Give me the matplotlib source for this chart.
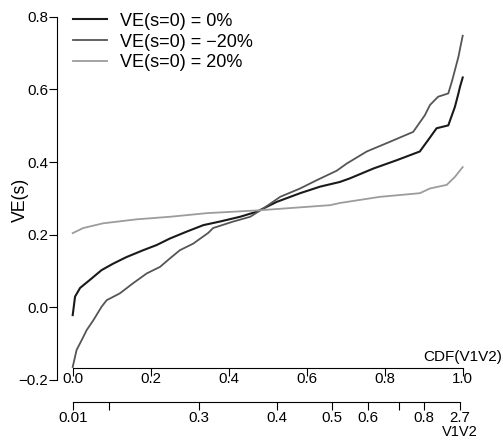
import matplotlib
matplotlib.use("Agg")
import matplotlib.pyplot as plt

plt.rcParams['font.family'] = ['Liberation Sans', 'DejaVu Sans']

# VE(s) curves along the CDF of V1V2, one per VE(s=0) scenario
cdf_0 = [0.0, 0.006, 0.019, 0.044, 0.074, 0.104, 0.138, 0.181, 0.215, 0.249,
         0.292, 0.335, 0.378, 0.429, 0.472, 0.523, 0.583, 0.634, 0.685, 0.711,
         0.771, 0.831, 0.89, 0.911, 0.933, 0.963, 0.98, 0.989, 0.993, 1.0]
ve_0 = [-0.022, 0.029, 0.053, 0.075, 0.102, 0.120, 0.138, 0.157, 0.171, 0.189,
        0.208, 0.226, 0.236, 0.249, 0.263, 0.290, 0.314, 0.332, 0.345, 0.355,
        0.382, 0.405, 0.429, 0.460, 0.493, 0.501, 0.552, 0.589, 0.607, 0.633]

cdf_m20 = [0.0, 0.01, 0.023, 0.036, 0.053, 0.074, 0.087, 0.121, 0.155, 0.19,
           0.224, 0.249, 0.275, 0.309, 0.348, 0.36, 0.412, 0.455, 0.489, 0.532,
           0.583, 0.626, 0.677, 0.703, 0.754, 0.814, 0.873, 0.903, 0.916, 0.937,
           0.963, 0.972, 0.98, 0.989, 0.995, 1.0]
ve_m20 = [-0.165, -0.118, -0.091, -0.063, -0.036, 0.001, 0.019, 0.038, 0.066, 0.093,
          0.111, 0.134, 0.157, 0.175, 0.205, 0.218, 0.236, 0.249, 0.272, 0.304,
          0.327, 0.350, 0.376, 0.396, 0.429, 0.456, 0.483, 0.529, 0.557, 0.580,
          0.589, 0.621, 0.653, 0.690, 0.722, 0.748]

cdf_p20 = [0.0, 0.027, 0.078, 0.164, 0.249, 0.344, 0.48, 0.66, 0.685, 0.788,
           0.89, 0.916, 0.959, 0.98, 1.0]
ve_p20 = [0.204, 0.218, 0.231, 0.242, 0.249, 0.259, 0.267, 0.281, 0.287, 0.304,
          0.314, 0.327, 0.337, 0.359, 0.386]

labels = ['VE(s=0) = 0%', 'VE(s=0) = \u221220%', 'VE(s=0) = 20%']

cdf_ticks = [0.0, 0.2, 0.4, 0.6, 0.8, 1.0]
v1v2_pos = [0.0, 0.093, 0.324, 0.523, 0.665, 0.757, 0.836, 0.900, 0.993]
v1v2_labels = ['0.01', '', '0.3', '0.4', '0.5', '0.6', '', '0.8', '2.7']

fig = plt.figure(figsize=(5.03, 4.42), dpi=100)
ax = fig.add_axes([0.1133, 0.1410, 0.8066, 0.8208])

ax.plot(cdf_0, ve_0, color='#1a1a1a', lw=1.5, clip_on=False, label=labels[0])
ax.plot(cdf_m20, ve_m20, color='#555555', lw=1.3, clip_on=False, label=labels[1])
ax.plot(cdf_p20, ve_p20, color='#9c9c9c', lw=1.3, clip_on=False, label=labels[2])

ax.set_xlim(-0.0403, 1.0)
ax.set_ylim(-0.2, 0.8)

for s in ['top', 'right']:
    ax.spines[s].set_visible(False)
ax.spines['left'].set_bounds(-0.2, 0.8)
ax.spines['bottom'].set_position(('data', -0.168))
ax.spines['bottom'].set_bounds(0, 1)
for s in ['left', 'bottom']:
    ax.spines[s].set_linewidth(0.8)

ax.set_yticks([-0.2, 0.0, 0.2, 0.4, 0.6, 0.8])
ax.set_yticklabels(['\u22120.2', '0.0', '0.2', '0.4', '0.6', '0.8'])
ax.set_xticks(cdf_ticks)
ax.set_xticklabels([f'{t:.1f}' for t in cdf_ticks])
ax.tick_params(axis='y', length=5.8, width=0.8, pad=0.4, labelsize=10.8)
ax.tick_params(axis='x', length=5.8, width=0.8, pad=-3.0, labelsize=10.8)

# second scale: V1V2 values at their CDF positions
ax2 = ax.twiny()
ax2.set_xlim(ax.get_xlim())
for s in ['top', 'left', 'right']:
    ax2.spines[s].set_visible(False)
ax2.spines['bottom'].set_position(('axes', -0.0615))
ax2.spines['bottom'].set_bounds(0, 0.993)
ax2.spines['bottom'].set_linewidth(0.8)
ax2.xaxis.set_ticks_position('bottom')
ax2.set_xticks(v1v2_pos)
ax2.set_xticklabels(v1v2_labels)
ax2.tick_params(axis='x', length=5.8, width=0.8, pad=0.5, labelsize=10.8)

fig.text(0.998, 0.1912, 'CDF(V1V2)', ha='right', va='center', fontsize=11)
fig.text(0.914, 0.022, 'V1V2', ha='center', va='center', fontsize=10.5)
fig.text(0.04, 0.5475, 'VE(s)', ha='center', va='center', rotation=90, fontsize=12.7)

ax.legend(loc='upper left', bbox_to_anchor=(0.1446, 0.971), bbox_transform=fig.transFigure,
          frameon=False, fontsize=13, handlelength=1.9, handletextpad=0.7,
          labelspacing=0.21, borderpad=0, borderaxespad=0)

fig.savefig('out.png', dpi=100)
